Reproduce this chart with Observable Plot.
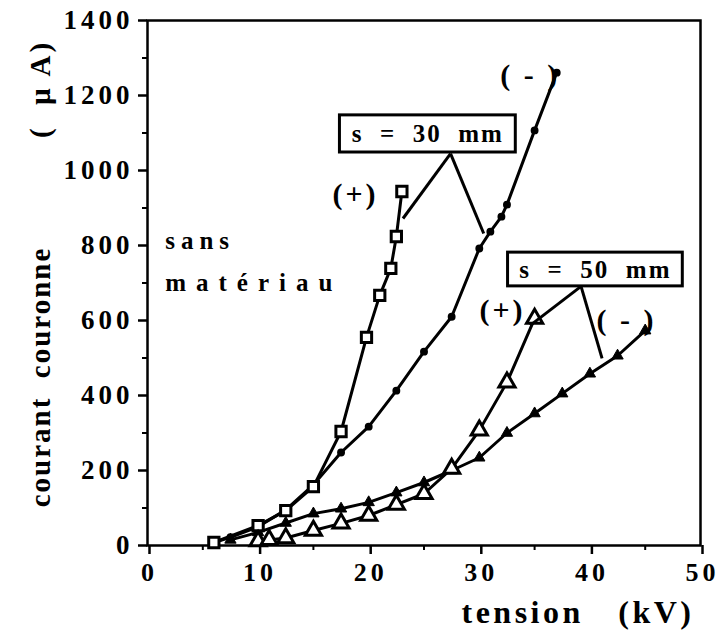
<!DOCTYPE html>
<html>
<head>
<meta charset="utf-8">
<script src="https://cdn.jsdelivr.net/npm/d3@7"></script>
<script src="https://cdn.jsdelivr.net/npm/@observablehq/plot@0.6"></script>
<style>
  html, body { margin: 0; padding: 0; background: white; }
  svg text { white-space: pre; }
</style>
</head>
<body>
<div id="chart"></div>
<script>
// ---- data ----
const volt30pos = [6, 10, 12.5, 15, 17.5, 19.8, 21, 22, 22.5, 23];
const cur30pos  = [8, 53, 93, 157, 304, 555, 667, 739, 824, 944];

const volt30neg = [6, 7.5, 10, 12.5, 15, 17.5, 20, 22.5, 25, 27.5, 30, 31, 32, 32.5, 35, 37];
const cur30neg  = [8, 22, 50, 95, 162, 248, 317, 413, 517, 610, 792, 837, 877, 909, 1107, 1261];

const volt50pos = [10, 11, 12.5, 15, 17.5, 20, 22.5, 25, 27.5, 30, 32.5, 35];
const cur50pos  = [12, 15, 20, 40, 59, 80, 109, 138, 205, 307, 435, 605];

const volt50neg = [7.5, 10, 12.5, 15, 17.5, 20, 22.5, 25, 27.5, 30, 32.5, 35, 37.5, 40, 42.5, 45];
const cur50neg  = [15, 35, 60, 85, 98, 115, 141, 168, 200, 234, 300, 352, 405, 458, 506, 573];

const xTicks = [0, 10, 20, 30, 40, 50];
const xMinorTicks = [5, 15, 25, 35, 45];
const yTicks = [0, 200, 400, 600, 800, 1000, 1200, 1400];
const yMinorTicks = [100, 300, 500, 700, 900, 1100, 1300];

const xLabel = "tension   (kV)";
const yLabelName = "courant  couronne";
const yLabelUnit = "(  µ A)";

// annotation boxes (data coordinates)
const boxLabels = ["s  =  30  mm", "s  =  50  mm"];
const boxX1 = [17.4, 32.6];
const boxX2 = [33.3, 48.4];
const boxY1 = [1048, 691];
const boxY2 = [1147, 781];

// leader lines
const leadX1 = [27.4, 27.4, 39.2, 39.2];
const leadY1 = [1045, 1045, 691, 691];
const leadX2 = [23.1, 30.4, 34.6, 41.1];
const leadY2 = [872, 832, 587, 499];

// polarity labels
const polLabels = ["(+)", "( - )", "(+)", "( - )"];
const polX = [18.8, 34.6, 32.1, 43.3];
const polY = [935, 1253, 627, 600];

const noteLabels = ["sans", "matériau"];
const noteX = [1.6, 1.6];
const noteY = [813, 699];

const toRows = (xs, ys) => xs.map((x, i) => ({x, y: ys[i]}));
const s30p = toRows(volt30pos, cur30pos);
const s30n = toRows(volt30neg, cur30neg);
const s50p = toRows(volt50pos, cur50pos);
const s50n = toRows(volt50neg, cur50neg);
const boxes = boxLabels.map((t, i) => ({t, x1: boxX1[i], x2: boxX2[i], y1: boxY1[i], y2: boxY2[i]}));
const leads = leadX1.map((x1, i) => ({x1, y1: leadY1[i], x2: leadX2[i], y2: leadY2[i]}));
const pols = polLabels.map((t, i) => ({t, x: polX[i], y: polY[i]}));
const notes = noteLabels.map((t, i) => ({t, x: noteX[i], y: noteY[i]}));

const serif = "'Liberation Serif', 'DejaVu Serif', serif";

const chart = Plot.plot({
  width: 718,
  height: 635,
  marginLeft: 147,
  marginRight: 18,
  marginTop: 20,
  marginBottom: 90,
  style: {fontFamily: serif, fontSize: "24px", color: "black", background: "white"},
  x: {domain: [0, 50]},
  y: {domain: [0, 1400]},
  marks: [
    Plot.frame({stroke: "black", strokeWidth: 2.5}),
    Plot.axisX({ticks: xTicks, tickFormat: d => String(d), tickSize: 9, tickPadding: 8, dx: 2, strokeWidth: 2.5, label: null,
      fontSize: 26, fontWeight: "bold"}),
    Plot.axisX({ticks: xMinorTicks, tickSize: 5, strokeWidth: 2, text: null, label: null}),
    Plot.axisY({ticks: yTicks, tickFormat: d => String(d), tickSize: 9, tickPadding: 5, strokeWidth: 2.5, label: null,
      fontSize: 27, fontWeight: "bold"}),
    Plot.axisY({ticks: yMinorTicks, tickSize: 5, strokeWidth: 2, text: null, label: null}),

    // axis titles
    Plot.text([xLabel], {frameAnchor: "bottom-right", dx: -6, dy: 67, textAnchor: "end", lineAnchor: "middle",
      fontSize: 32, fontWeight: "bold", fill: "black"}),
    Plot.text([yLabelName], {frameAnchor: "left", dx: -107, dy: 94, rotate: -90, textAnchor: "middle", lineAnchor: "middle",
      fontSize: 29, fontWeight: "bold", fill: "black"}),
    Plot.text([yLabelUnit], {frameAnchor: "left", dx: -107, dy: -194, rotate: -90, textAnchor: "middle", lineAnchor: "middle",
      fontSize: 29, fontWeight: "bold", fill: "black"}),

    // series lines
    Plot.line(s30p, {x: "x", y: "y", stroke: "black", strokeWidth: 3}),
    Plot.line(s30n, {x: "x", y: "y", stroke: "black", strokeWidth: 3}),
    Plot.line(s50p, {x: "x", y: "y", stroke: "black", strokeWidth: 3}),
    Plot.line(s50n, {x: "x", y: "y", stroke: "black", strokeWidth: 3}),

    // markers
    Plot.dot(s30n, {x: "x", y: "y", r: 3.2, fill: "black", stroke: "black"}),
    Plot.dot(s50n, {x: "x", y: "y", symbol: "triangle", r: 4.2, fill: "black", stroke: "black", strokeWidth: 1}),
    Plot.dot(s30p, {x: "x", y: "y", symbol: "square", r: 5.8, fill: "white", stroke: "black", strokeWidth: 3}),
    Plot.dot(s50p, {x: "x", y: "y", symbol: "triangle", r: 6, fill: "white", stroke: "black", strokeWidth: 3}),

    // annotations
    Plot.link(leads, {x1: "x1", y1: "y1", x2: "x2", y2: "y2", stroke: "black", strokeWidth: 3}),
    Plot.rect(boxes, {x1: "x1", x2: "x2", y1: "y1", y2: "y2", fill: "white", stroke: "black", strokeWidth: 3}),
    Plot.text(boxes, {x: d => (d.x1 + d.x2) / 2, y: d => (d.y1 + d.y2) / 2, text: "t", fontSize: 25, fontWeight: "bold",
      lineAnchor: "middle", fill: "black"}),
    Plot.text(pols, {x: "x", y: "y", text: "t", fontSize: 30, fontWeight: "bold", lineAnchor: "middle", fill: "black"}),
    Plot.text(notes, {x: "x", y: "y", text: "t", fontSize: 25, fontWeight: "bold",
      textAnchor: "start", lineAnchor: "middle", fill: "black"})
  ]
});

// letter spacing (typographic styling only), matched by text content
function spacingFor(t) {
  if (xTicks.map(String).includes(t) || yTicks.map(String).includes(t)) return 4;
  if (t === xLabel) return 3.5;
  if (t === yLabelName) return 2;
  if (t === yLabelUnit) return 3;
  if (boxLabels.includes(t)) return 2;
  if (polLabels.includes(t)) return 3;
  if (t === noteLabels[0]) return 6;
  if (t === noteLabels[1]) return 10;
  return 0;
}
document.getElementById("chart").appendChild(chart);
chart.querySelectorAll("text").forEach(el => {
  const ls = spacingFor(el.textContent);
  if (ls) {
    el.setAttribute("letter-spacing", ls);
    el.style.letterSpacing = ls + "px";
  }
});
</script>
</body>
</html>
